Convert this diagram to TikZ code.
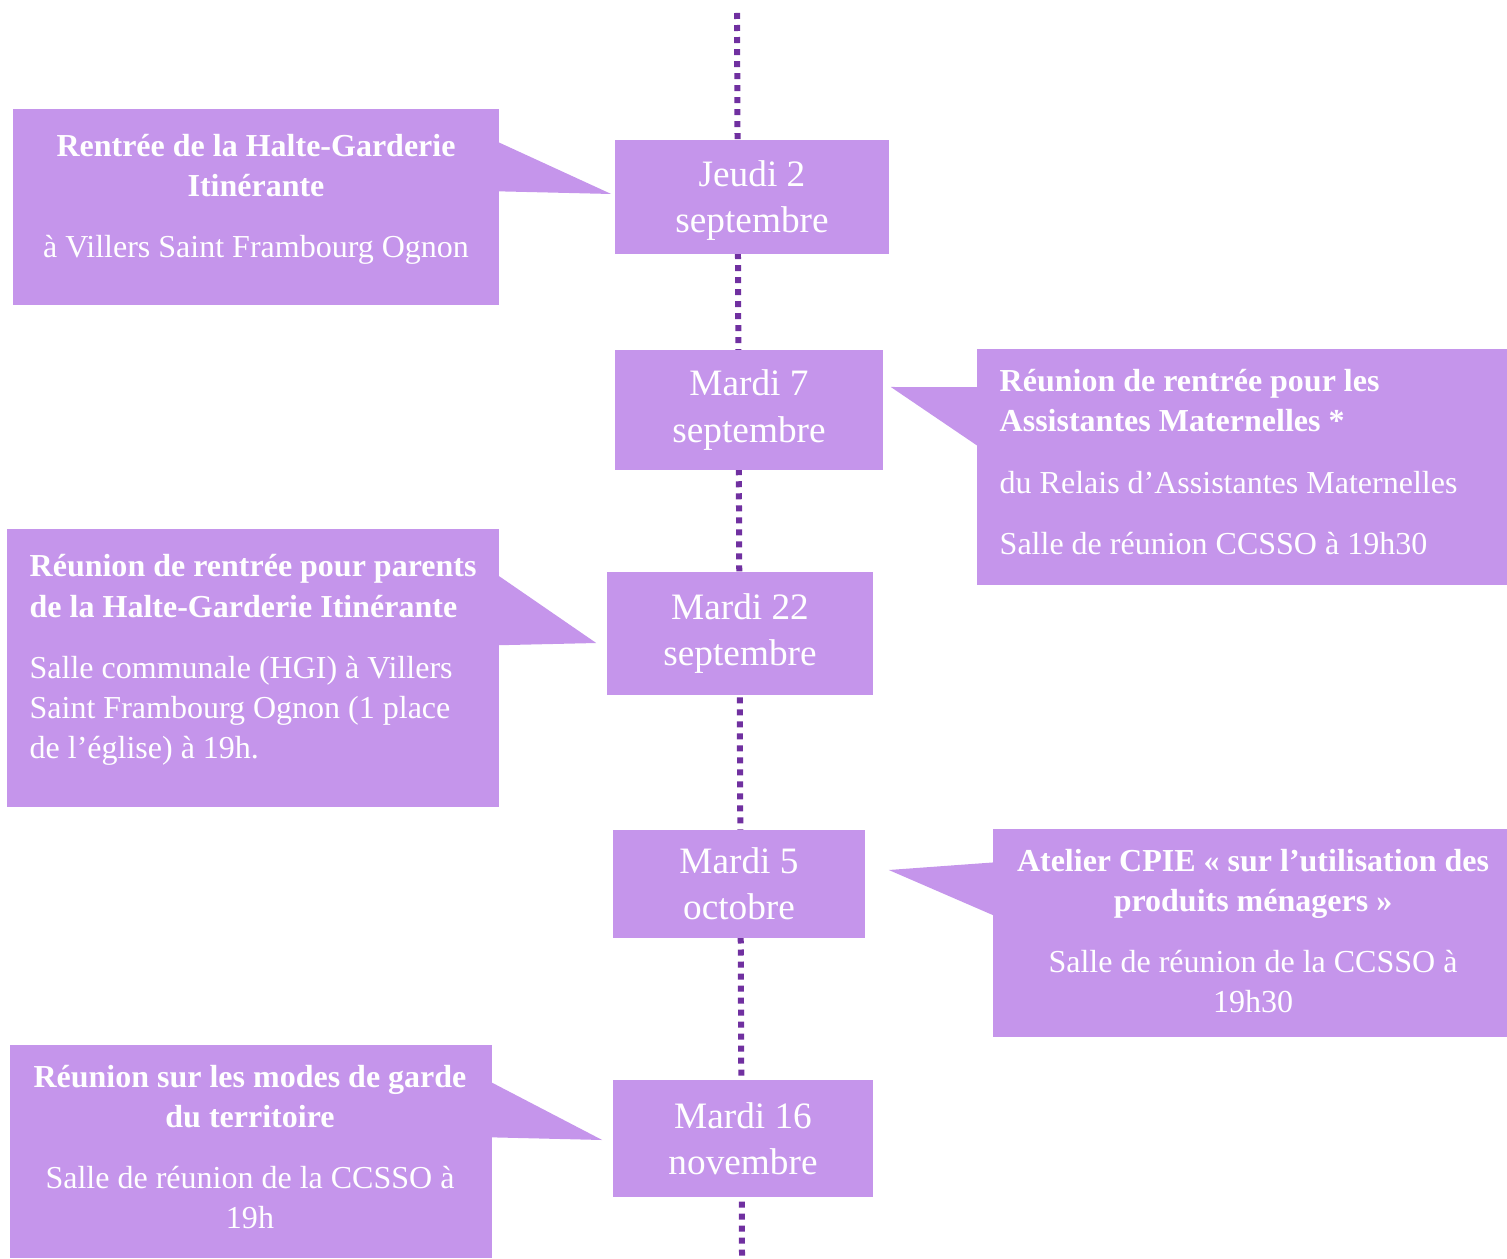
\documentclass[tikz,border=0pt]{standalone}
\usepackage{fontspec}
\setmainfont{Liberation Serif}
\begin{document}
\begin{tikzpicture}[x=0.01cm, y=-0.01cm, wash/.style={fill=calFill}, datebox/.style={wash, text=white, align=center, inner sep=0pt, font=\fontsize{10.6}{13.1}\selectfont}, eventbox/.style={wash, inner sep=0pt}, eventtext/.style={text=white, inner sep=0pt, font=\fontsize{9.1}{11.4}\selectfont}, timeline/.style={line width=0.06cm, calDot, dash pattern=on 0.06cm off 0.06cm}]
\definecolor{calFill}{RGB}{197,149,235}
\definecolor{calDot}{RGB}{112,48,160}
\useasboundingbox (0,0) rectangle (1507,1258);
% dotted time axis
\coordinate (top) at (737,13);
\coordinate (bot) at (742,1256);
\draw[timeline] (top) -- (bot);
% dates
\node[datebox, minimum width=2.74cm, minimum height=1.14cm, text depth=-0.08cm] (d1) at (752,197) {Jeudi 2\\septembre};
\node[datebox, minimum width=2.68cm, minimum height=1.20cm] (d2) at (749,410) {Mardi 7\\septembre};
\node[datebox, minimum width=2.66cm, minimum height=1.23cm] (d3) at (740,633.5) {Mardi 22\\septembre};
\node[datebox, minimum width=2.52cm, minimum height=1.08cm, text depth=-0.06cm] (d4) at (739,884) {Mardi 5\\octobre};
\node[datebox, minimum width=2.60cm, minimum height=1.17cm] (d5) at (743,1138.5) {Mardi 16\\novembre};
% event boxes
\node[eventbox, minimum width=4.86cm, minimum height=1.96cm] (c1) at (256,207) {};
\node[eventbox, minimum width=5.30cm, minimum height=2.36cm] (c2) at (1242,467) {};
\node[eventbox, minimum width=4.92cm, minimum height=2.78cm] (c3) at (253,668) {};
\node[eventbox, minimum width=5.14cm, minimum height=2.08cm] (c4) at (1250,933) {};
\node[eventbox, minimum width=4.82cm, minimum height=2.13cm] (c5) at (251,1151.5) {};
% pointers
\fill[wash] ([xshift=-1pt, yshift=-0.33cm]c1.north east) -- ([xshift=-0.03cm, yshift=0.03cm]d1.west) -- ([xshift=-1pt, yshift=-0.83cm]c1.north east) -- cycle;
\fill[wash] ([xshift=1pt, yshift=-0.39cm]c2.north west) -- ([xshift=0.07cm, yshift=0.23cm]d2.east) -- ([xshift=1pt, yshift=-0.99cm]c2.north west) -- cycle;
\fill[wash] ([xshift=-1pt, yshift=-0.46cm]c3.north east) -- ([xshift=-0.10cm, yshift=-0.095cm]d3.west) -- ([xshift=-1pt, yshift=-1.17cm]c3.north east) -- cycle;
\fill[wash] ([xshift=1pt, yshift=-0.34cm]c4.north west) -- ([xshift=0.23cm, yshift=0.14cm]d4.east) -- ([xshift=1pt, yshift=-0.88cm]c4.north west) -- cycle;
\fill[wash] ([xshift=-1pt, yshift=-0.37cm]c5.north east) -- ([xshift=-0.10cm, yshift=-0.015cm]d5.west) -- ([xshift=-1pt, yshift=-0.93cm]c5.north east) -- cycle;
% event texts
\node[eventtext, align=center] (t1) at (256,199) {\textbf{Rentrée de la Halte-Garderie}\\\textbf{Itinérante}\\[6pt]à Villers Saint Frambourg Ognon};
\node[eventtext, align=left, anchor=west] (t2) at (999,462) {\textbf{Réunion de rentrée pour les}\\\textbf{Assistantes Maternelles *}\\[6pt]du Relais d’Assistantes Maternelles\\[6pt]Salle de réunion CCSSO à 19h30};
\node[eventtext, align=left, anchor=west] (t3) at (29,660) {\textbf{Réunion de rentrée pour parents}\\\textbf{de la Halte-Garderie Itinérante}\\[6pt]Salle communale (HGI) à Villers\\Saint Frambourg Ognon (1 place\\de l’église) à 19h.};
\node[eventtext, align=center] (t4) at (1253,931) {\textbf{Atelier CPIE « sur l’utilisation des}\\\textbf{produits ménagers »}\\[6pt]Salle de réunion de la CCSSO à\\19h30};
\node[eventtext, align=center] (t5) at (250,1147) {\textbf{Réunion sur les modes de garde}\\\textbf{du territoire}\\[6pt]Salle de réunion de la CCSSO à\\19h};
\end{tikzpicture}
\end{document}
